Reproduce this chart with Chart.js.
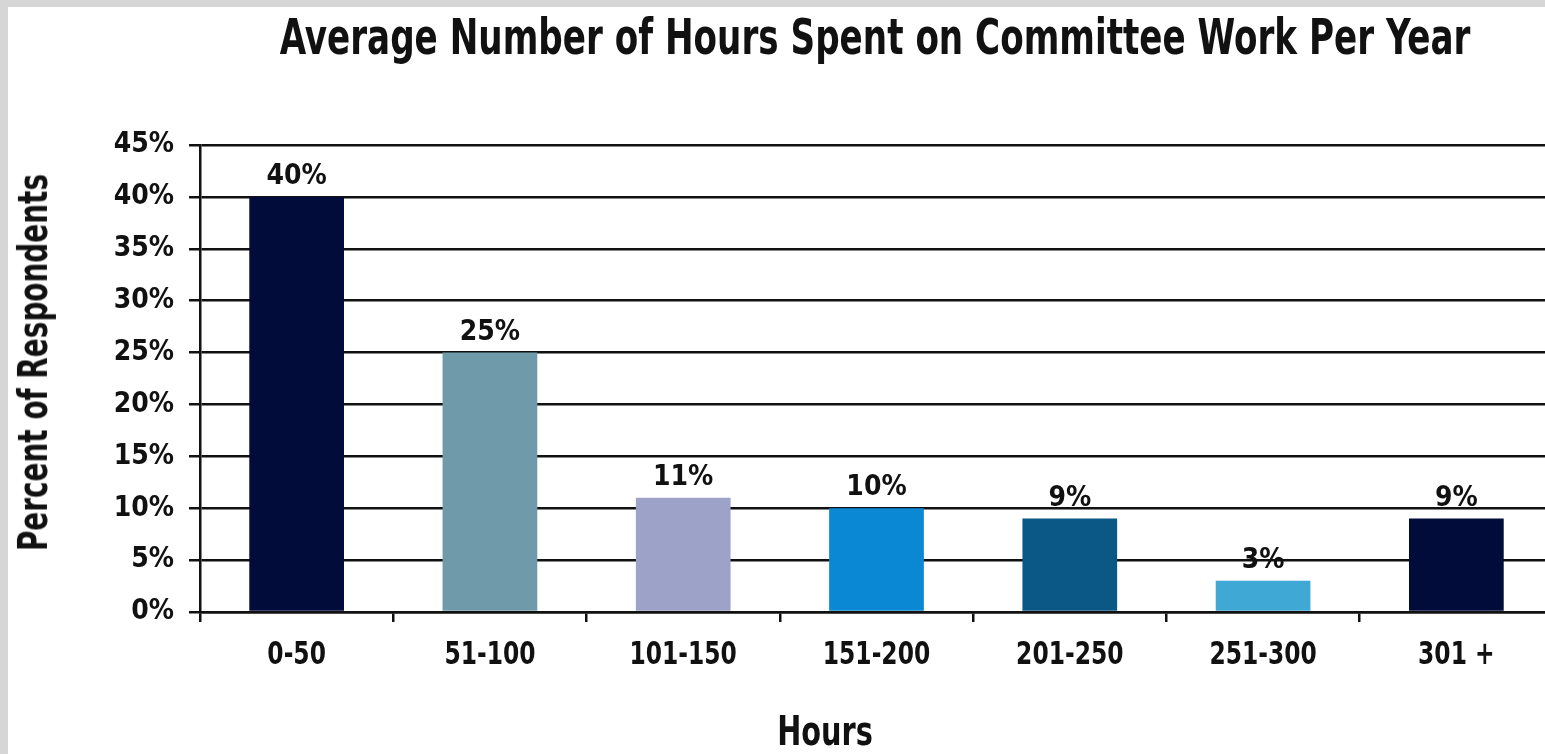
<!DOCTYPE html>
<html lang="en">
<head>
  <meta charset="UTF-8" />
  <title>Average Number of Hours Spent on Committee Work Per Year</title>
  <script src="https://cdn.jsdelivr.net/npm/chart.js"></script>
  <style>
    html, body {
      margin: 0;
      padding: 0;
      overflow: hidden;
      background: #d6d6d6;
    }
    .page {
      position: absolute;
      left: 8px;
      top: 7px;
      width: 1537px;
      height: 747px;
      background: #fff;
      overflow: hidden;
    }
    .wrap {
      position: absolute;
      left: -8px;
      top: -7px;
      width: 1553px;
      height: 754px;
    }
    .txt {
      position: absolute;
      margin: 0;
      font-family: "DejaVu Sans Condensed", sans-serif;
      font-weight: bold;
      color: #111;
      white-space: nowrap;
      line-height: 1;
    }
    #title {
      left: -8px;
      width: 1750px;
      top: 11px;
      text-align: center;
      font-size: 38px;
      transform: scaleY(1.33);
    }
    #xTitle {
      left: 617px;
      width: 400px;
      top: 708px;
      text-align: center;
      font-size: 32px;
      transform: scaleY(1.3);
    }
    #yTitle {
      left: -175px;
      width: 400px;
      top: 340px;
      text-align: center;
      font-size: 31px;
      transform: rotate(-90deg) scaleY(1.3);
    }
  </style>
</head>
<body>
  <div class="page">
    <div class="wrap">
      <canvas id="hoursChart" width="1553" height="754"></canvas>
    </div>
    <h1 class="txt" id="title">Average Number of Hours Spent on Committee Work Per Year</h1>
    <div class="txt" id="xTitle">Hours</div>
    <div class="txt" id="yTitle">Percent of Respondents</div>
  </div>

  <script>
    const categories = ["0-50", "51-100", "101-150", "151-200", "201-250", "251-300", "301 +"];
    const percents = [40, 25, 11, 10, 9, 3, 9];
    const barColors = ["#020c3b", "#6f9aaa", "#9da2c8", "#0a88d3", "#0b5886", "#40a8d4", "#020c3b"];
    const yTicks = [0, 5, 10, 15, 20, 25, 30, 35, 40, 45];

    const fontFamily = '"DejaVu Sans Condensed", sans-serif';

    // labels above each bar
    const valueLabels = {
      id: "valueLabels",
      afterDatasetsDraw(chart) {
        const ctx = chart.ctx;
        const meta = chart.getDatasetMeta(0);
        ctx.save();
        ctx.font = "bold 28px " + fontFamily;
        ctx.fillStyle = "#111";
        ctx.textAlign = "center";
        ctx.textBaseline = "alphabetic";
        meta.data.forEach((bar, i) => {
          ctx.fillText(percents[i] + "%", bar.x, bar.y - 13);
        });
        ctx.restore();
      }
    };

    // category labels, stretched a bit to look like the tall condensed face
    const tallXLabels = {
      id: "tallXLabels",
      afterDraw(chart) {
        const ctx = chart.ctx;
        const xs = chart.scales.x;
        const y = 656;
        ctx.save();
        ctx.font = "bold 26px " + fontFamily;
        ctx.fillStyle = "#111";
        ctx.textAlign = "center";
        ctx.textBaseline = "middle";
        categories.forEach((c, i) => {
          ctx.save();
          ctx.translate(xs.getPixelForTick(i), y);
          ctx.scale(1, 1.25);
          ctx.fillText(c, 0, 0);
          ctx.restore();
        });
        ctx.restore();
      }
    };

    new Chart(document.getElementById("hoursChart"), {
      type: "bar",
      data: {
        labels: categories,
        datasets: [{
          data: percents,
          backgroundColor: barColors,
          barPercentage: 0.49,
          categoryPercentage: 1
        }]
      },
      options: {
        responsive: false,
        animation: false,
        layout: { padding: { top: 145, left: 0, right: 0, bottom: 0 } },
        plugins: {
          legend: { display: false },
          tooltip: { enabled: false }
        },
        scales: {
          y: {
            min: 0,
            max: 45,
            afterBuildTicks(scale) {
              scale.ticks = yTicks.map(v => ({ value: v }));
            },
            afterFit(scale) { scale.width = 200; },
            border: { color: "#111", width: 2.5 },
            grid: { color: "#111", lineWidth: 2.5, tickLength: 11 },
            ticks: {
              color: "#111",
              padding: 15,
              font: { family: fontFamily, weight: "bold", size: 28 },
              callback: v => v + "%"
            }
          },
          x: {
            afterFit(scale) { scale.height = 142; },
            border: { color: "#111", width: 2.5 },
            grid: { drawOnChartArea: false, color: "#111", lineWidth: 2.5, tickLength: 10 },
            ticks: {
              color: "rgba(0,0,0,0)",
              padding: 17,
              font: { family: fontFamily, weight: "bold", size: 26 }
            }
          }
        }
      },
      plugins: [valueLabels, tallXLabels]
    });
  </script>
</body>
</html>
